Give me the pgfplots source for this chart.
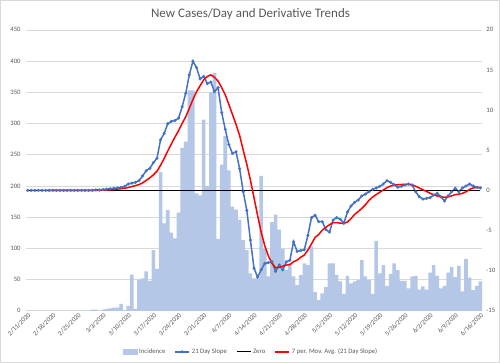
\documentclass[border=0pt]{standalone}
\usepackage{fontspec}
\setmainfont{Carlito}
\usepackage{pgfplots}
\pgfplotsset{compat=1.18}
\usepackage{pgfplotstable}
\definecolor{barc}{HTML}{B4C7E7}
\definecolor{bluec}{HTML}{4472C4}
\definecolor{txt}{HTML}{595959}
\definecolor{gridc}{HTML}{D9D9D9}
\pgfplotstableread{
d inc slope ma
0 0 0 nan
1 0 0 nan
2 0 0 nan
3 0 0 nan
4 0 0 nan
5 0 0 nan
6 0 0 0
7 0 0 0
8 0 0 0
9 0 0 0
10 0 0 0
11 0 0 0
12 0 0 0
13 0 0 0
14 0 0 0
15 0 0 0
16 0 0 0
17 0 0 0
18 2 0 0
19 2 0.05 0.01
20 0 0.05 0.01
21 2 0.1 0.03
22 3 0.15 0.05
23 4 0.2 0.08
24 5 0.25 0.11
25 5 0.3 0.16
26 11 0.35 0.20
27 1 0.5 0.26
28 8 0.8 0.36
29 58 0.9 0.47
30 3 1.0 0.59
31 50 1.2 0.72
32 52 1.8 0.94
33 63 2.45 1.24
34 48 2.74 1.56
35 97 3.45 1.93
36 67 4.0 2.38
37 222 6.3 3.13
38 140 7.1 3.98
39 161 8.3 4.91
40 125 8.6 5.78
41 116 8.7 6.64
42 157 9.0 7.43
43 261 10.4 8.34
44 271 12.1 9.17
45 353 14.4 10.21
46 353 16.1 11.33
47 188 15.3 12.29
48 185 13.9 13.03
49 306 14.2 13.77
50 200 13.3 14.19
51 350 13.5 14.39
52 381 12.3 14.09
53 115 12.8 13.61
54 234 9.7 12.81
55 280 7.6 11.91
56 225 5.7 10.70
57 167 4.6 9.46
58 162 4.8 8.21
59 146 2.7 6.84
60 113 -0.17 4.99
61 97 -2.5 3.25
62 60 -6.2 1.28
63 52 -9.7 -0.92
64 52 -10.8 -3.12
65 216 -9.9 -5.22
66 100 -9.1 -6.91
67 55 -9.0 -8.17
68 142 -8.9 -9.09
69 154 -10.1 -9.64
70 130 -9.3 -9.59
71 99 -9.9 -9.46
72 65 -8.9 -9.31
73 76 -8.7 -9.26
74 55 -6.4 -8.89
75 41 -7.6 -8.70
76 57 -7.5 -8.33
77 76 -7.4 -8.06
78 73 -5.6 -7.44
79 103 -3.4 -6.66
80 30 -3.1 -5.86
81 17 -3.9 -5.50
82 28 -3.9 -4.97
83 38 -4.9 -4.60
84 76 -5.2 -4.29
85 76 -3.7 -4.01
86 57 -3.4 -4.01
87 47 -3.6 -4.09
88 27 -4.1 -4.11
89 56 -2.7 -3.94
90 44 -1.95 -3.52
91 47 -1.5 -2.99
92 49 -1.2 -2.64
93 81 -0.7 -2.25
94 55 -0.46 -1.80
95 49 -0.17 -1.24
96 27 0.12 -0.84
97 112 0.3 -0.52
98 60 0.5 -0.23
99 73 0.8 0.06
100 40 1.2 0.33
101 59 1.0 0.54
102 76 0.7 0.66
103 65 0.4 0.70
104 48 0.5 0.73
105 48 0.67 0.75
106 36 0.79 0.75
107 55 0.67 0.68
108 56 -0.17 0.51
109 34 -0.8 0.29
110 39 -1.08 0.08
111 34 -1.0 -0.13
112 61 -0.9 -0.36
113 73 -0.58 -0.55
114 56 -0.37 -0.70
115 36 -0.8 -0.79
116 40 -1.33 -0.87
117 61 -0.7 -0.81
118 70 -0.17 -0.69
119 54 0.25 -0.53
120 72 -0.17 -0.47
121 31 0.3 -0.37
122 83 0.54 -0.18
123 53 0.79 0.12
124 33 0.54 0.30
125 40 0.37 0.37
126 47 0.3 0.38
}\datatab
\begin{document}
\begin{tikzpicture}[x=1pt,y=1pt]
\path[draw=gridc, line width=0.6pt, fill=white] (0.5,0.5) rectangle (499.5,362.5);
\node[font=\fontsize{13}{15}\selectfont, text=txt] at (250.5,349) {New Cases/Day and Derivative Trends};
\begin{axis}[
  at={(26pt,52.3pt)}, anchor=south west, scale only axis,
  width=456pt, height=280.7pt,
  xmin=-0.5, xmax=126.5, ymin=0, ymax=450,
  ytick={0,50,...,450},
  xtick={0,7,...,126},
  xticklabels={2/11/2020,2/18/2020,2/25/2020,3/3/2020,3/10/2020,3/17/2020,3/24/2020,3/31/2020,4/7/2020,4/14/2020,4/21/2020,4/28/2020,5/5/2020,5/12/2020,5/19/2020,5/26/2020,6/2/2020,6/9/2020,6/16/2020},
  ymajorgrids, grid style={draw=gridc, line width=0.6pt},
  axis line style={draw=none},
  major tick length=0pt,
  /pgf/number format/assume math mode=true,
  xticklabel style={rotate=45, anchor=north east, font=\fontsize{6.7}{8}\selectfont, text=txt, inner sep=1pt},
  yticklabel style={font=\fontsize{6.7}{8}\selectfont, text=txt, inner sep=1pt, xshift=-4pt},
]
\addplot[ybar, fill=barc, draw=none, bar width=1, bar shift=0] table[x=d,y=inc]{\datatab};
\end{axis}
\begin{axis}[
  at={(26pt,52.3pt)}, anchor=south west, scale only axis,
  width=456pt, height=280.7pt,
  xmin=-0.5, xmax=126.5, ymin=-15, ymax=20,
  ytick={-15,-10,...,20},
  hide x axis,
  axis line style={draw=none},
  major tick length=0pt,
  ytick pos=right, yticklabel pos=right,
  /pgf/number format/assume math mode=true,
  yticklabel style={font=\fontsize{6.7}{8}\selectfont, text=txt, inner sep=1pt, anchor=west, xshift=3pt},
  legend style={at={(0.4934,-0.146)}, anchor=center, draw=none, fill=none,
    font=\fontsize{6.7}{8}\selectfont, text=txt,
    /tikz/every even column/.append style={column sep=7pt}},
  legend columns=4,
  legend cell align=left,
  legend image code/.code={\draw[mark repeat=2,mark phase=2,#1] plot coordinates {(0pt,0pt) (7pt,0pt) (14pt,0pt)};},
]
\addlegendimage{legend image code/.code={\fill[barc] (0pt,-2.2pt) rectangle (14pt,2.2pt);}}
\addlegendentry{Incidence}
\addplot[bluec, line width=1.5pt, mark=*, mark size=1.4pt, mark options={fill=bluec, draw=bluec, line width=0.3pt}] table[x=d,y=slope]{\datatab};
\addlegendentry{21 Day Slope}
\addplot[black, line width=1.2pt] coordinates {(0,0) (126,0)};
\addlegendentry{Zero}
\addplot[red, line width=1.5pt, unbounded coords=jump] table[x=d,y=ma]{\datatab};
\addlegendentry{7 per. Mov. Avg. (21 Day Slope)}
\end{axis}
\end{tikzpicture}
\end{document}
